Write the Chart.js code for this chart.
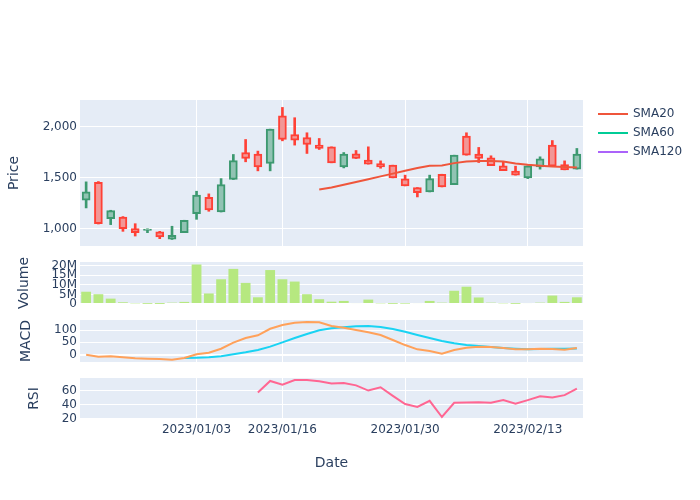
<!DOCTYPE html>
<html>
<head>
<meta charset="utf-8">
<script src="https://cdn.jsdelivr.net/npm/chart.js@4.4.0/dist/chart.umd.min.js"></script>
<style>
  body { margin: 0; background: #fff; }
  #wrap { position: relative; width: 700px; height: 500px; }
  canvas { position: absolute; left: 0; }
</style>
</head>
<body>
<div id="wrap">
  <canvas id="price" width="700" height="180" style="top:80px"></canvas>
  <canvas id="volume" width="700" height="82" style="top:242px"></canvas>
  <canvas id="macd" width="700" height="82" style="top:300px"></canvas>
  <canvas id="rsi" width="700" height="142" style="top:358px"></canvas>
</div>
<script>
const dates = [
    '2022/12/19', '2022/12/20', '2022/12/21', '2022/12/22', '2022/12/23', '2022/12/26', '2022/12/27',
    '2022/12/28', '2022/12/29', '2023/01/03', '2023/01/04', '2023/01/05', '2023/01/06', '2023/01/09',
    '2023/01/10', '2023/01/11', '2023/01/16', '2023/01/17', '2023/01/18', '2023/01/19', '2023/01/20',
    '2023/01/23', '2023/01/24', '2023/01/25', '2023/01/26', '2023/01/27', '2023/01/30', '2023/01/31',
    '2023/02/01', '2023/02/02', '2023/02/03', '2023/02/06', '2023/02/07', '2023/02/08', '2023/02/09',
    '2023/02/10', '2023/02/13', '2023/02/14', '2023/02/15', '2023/02/16', '2023/02/17'
];
const tickDates = ['2023/01/03', '2023/01/16', '2023/01/30', '2023/02/13'];

const open = [1279, 1455, 1098, 1114, 999, 983, 967, 895, 960, 1147, 1308, 1163, 1482, 1747, 1731, 1639, 2108,
    1924, 1895, 1820, 1803, 1606, 1734, 1672, 1639, 1623, 1488, 1403, 1360, 1534, 1432, 1908, 1731, 1695,
    1616, 1564, 1498, 1606, 1820, 1629, 1584];
const high = [1459, 1462, 1180, 1118, 1048, 998, 973, 1023, 1082, 1367, 1341, 1491, 1728, 1875, 1761, 1977, 2190,
    2089, 1941, 1885, 1803, 1747, 1767, 1803, 1665, 1623, 1525, 1403, 1525, 1534, 1721, 1941, 1797, 1715,
    1656, 1613, 1616, 1705, 1865, 1665, 1787];
const low = [1203, 1045, 1039, 973, 927, 960, 901, 893, 960, 1091, 1170, 1163, 1482, 1656, 1567, 1567, 1862,
    1820, 1738, 1777, 1646, 1596, 1688, 1633, 1593, 1498, 1419, 1311, 1360, 1409, 1432, 1721, 1649, 1619,
    1570, 1525, 1491, 1584, 1613, 1577, 1584];
const close = [1360, 1048, 1177, 999, 960, 996, 917, 934, 1082, 1328, 1183, 1432, 1669, 1688, 1606, 1977, 1875,
    1869, 1826, 1787, 1646, 1731, 1688, 1633, 1606, 1498, 1419, 1354, 1491, 1409, 1721, 1721, 1688, 1619,
    1570, 1525, 1616, 1685, 1613, 1577, 1731];

const sma20 = [null, null, null, null, null, null, null, null, null, null, null, null, null, null, null, null,
    null, null, null, 1383, 1403, 1430, 1458, 1485, 1513, 1540, 1568, 1595, 1618, 1620, 1643, 1660, 1664,
    1664, 1659, 1640, 1626, 1617, 1610, 1606, 1600];
const sma60 = [];
const sma120 = [];

const volume = [6400000, 5100000, 2800000, 900000, 350000, 100000, 50000, 700000, 1100000, 20600000, 5500000,
    12900000, 18300000, 11000000, 3500000, 17700000, 12900000, 11700000, 5100000, 2500000, 1200000, 1600000,
    500000, 2300000, 350000, 100000, 200000, 500000, 1600000, 700000, 6900000, 9000000, 3400000, 700000,
    350000, 100000, 500000, 700000, 4400000, 1100000, 3500000];

const macd = [0, -8, -6.5, -10.7, -14.8, -16, -17.5, -20, -13.4, 1.5, 8, 24, 49, 67.6, 78.4, 105, 120, 129.5,
    132, 131, 116.5, 109, 100, 90.7, 79.8, 59.5, 39, 21.7, 15, 4, 19, 28.5, 32.5, 31, 27, 21.7, 21.7, 24,
    23, 20, 27];
const signal = [null, null, null, null, null, null, null, null, -13.4, -12, -10.7, -6.5, 1.5, 9.5, 19, 32.5,
    50, 67.6, 83.8, 98.6, 107.5, 111, 115, 116, 112, 104, 93, 80, 67.6, 55.5, 46, 39, 35, 31, 27, 24, 22,
    23, 24, 24, 25.5];
const rsi = [null, null, null, null, null, null, null, null, null, null, null, null, null, null, 57.6, 74.3,
    69, 75.7, 75.7, 73.8, 70.8, 71.4, 68, 60.5, 65.3, 52.9, 41, 37, 45.7, 22.4, 42.9, 43.3, 43.8, 42.9,
    46.7, 41.4, 46.7, 52.4, 50.5, 53.9, 63.3];

const priceTicks = [1000, 1500, 2000];
const volumeTicks = [0, 5000000, 10000000, 15000000, 20000000];
const macdTicks = [0, 50, 100];
const rsiTicks = [20, 40, 60];

const fontFamily = '"DejaVu Sans", Verdana, sans-serif';
Chart.defaults.font.family = fontFamily;
Chart.defaults.font.size = 12;
Chart.defaults.color = '#2a3f5f';

const upLine = '#3D9970', downLine = '#FF4136';
const upFill = 'rgb(145, 195, 179)', downFill = 'rgb(242, 151, 150)';
const isUp = close.map((c, i) => c >= open[i]);

// plot area background like plotly
const plotBg = {
    id: 'plotBg',
    beforeDraw(chart) {
        const {ctx, chartArea: a} = chart;
        ctx.save();
        ctx.fillStyle = '#E5ECF6';
        ctx.fillRect(a.left, a.top, a.right - a.left, a.bottom - a.top);
        ctx.restore();
    }
};

// legend on the right with line samples
const lineLegend = {
    id: 'lineLegend',
    afterDraw(chart) {
        const ctx = chart.ctx;
        const items = chart.data.datasets.filter(d => d.type === 'line');
        items.forEach((d, i) => {
            const y = chart.chartArea.top + 14 + i * 19;
            ctx.save();
            ctx.strokeStyle = d.borderColor;
            ctx.lineWidth = 2;
            ctx.beginPath();
            ctx.moveTo(598, y);
            ctx.lineTo(628, y);
            ctx.stroke();
            ctx.fillStyle = '#2a3f5f';
            ctx.font = '12px ' + fontFamily;
            ctx.textBaseline = 'middle';
            ctx.fillText(d.label, 633, y);
            ctx.restore();
        });
    }
};

function yAxis(title, titlePad, min, max, tickValues, format) {
    return {
        min: min,
        max: max,
        border: {display: false},
        grid: {
            color: '#fff',
            lineWidth: c => (c.tick && c.tick.value === 0) ? 2 : 1,
            drawTicks: false
        },
        ticks: {padding: 3, autoSkip: false, callback: format},
        afterBuildTicks: s => { s.ticks = tickValues.map(v => ({value: v})); },
        afterFit: s => { s.width = 80; s.paddingTop = 0; s.paddingBottom = 0; },
        title: {display: true, text: title, font: {size: 14}, padding: {top: titlePad, bottom: 0}}
    };
}

function xAxis(showGrid, showLabels) {
    return {
        type: 'category',
        offset: true,
        border: {display: false},
        grid: {display: showGrid, offset: false, color: '#fff', drawTicks: false},
        ticks: {display: showLabels, autoSkip: false, maxRotation: 0, padding: 4},
        afterBuildTicks: s => { s.ticks = s.ticks.filter(t => tickDates.includes(dates[t.value])); },
        afterFit: s => { s.height = showLabels ? 81 : 0; s.paddingLeft = 0; s.paddingRight = 0; },
        title: {display: showLabels, text: 'Date', font: {size: 14}, padding: {top: 0, bottom: 28}}
    };
}

function baseOptions(scales, bottomPad) {
    return {
        responsive: false,
        animation: false,
        events: [],
        layout: {padding: {left: 0, right: 117, top: 20, bottom: bottomPad}},
        plugins: {legend: {display: false}, tooltip: {enabled: false}},
        scales: scales
    };
}

function drawPrice() {
    const ctx = document.getElementById('price').getContext('2d');
    new Chart(ctx, {
        type: 'bar',
        data: {
            labels: dates,
            datasets: [
                {type: 'line', label: 'SMA20', data: sma20, borderColor: '#EF553B', borderWidth: 2, pointRadius: 0, order: 0},
                {type: 'line', label: 'SMA60', data: sma60, borderColor: '#00CC96', borderWidth: 2, pointRadius: 0, order: 0},
                {type: 'line', label: 'SMA120', data: sma120, borderColor: '#AB63FA', borderWidth: 2, pointRadius: 0, order: 0},
                {
                    type: 'bar',
                    label: 'body',
                    data: open.map((o, i) => [o, close[i]]),
                    backgroundColor: isUp.map(u => u ? upFill : downFill),
                    borderColor: isUp.map(u => u ? upLine : downLine),
                    borderWidth: 2,
                    borderSkipped: false,
                    barThickness: 8,
                    grouped: false,
                    order: 1
                },
                {
                    type: 'bar',
                    label: 'wick',
                    data: low.map((l, i) => [l, high[i]]),
                    backgroundColor: isUp.map(u => u ? upLine : downLine),
                    borderWidth: 0,
                    barThickness: 2,
                    grouped: false,
                    order: 2
                }
            ]
        },
        options: baseOptions({
            x: xAxis(true, false),
            y: yAxis('Price', 6, 829, 2263, priceTicks, v => v.toLocaleString('en-US'))
        }, 14),
        plugins: [plotBg, lineLegend]
    });
}

function drawVolume() {
    const ctx = document.getElementById('volume').getContext('2d');
    new Chart(ctx, {
        type: 'bar',
        data: {
            labels: dates,
            datasets: [{
                label: 'Volume',
                data: volume,
                backgroundColor: '#B6E880',
                barPercentage: 0.8,
                categoryPercentage: 1
            }]
        },
        options: baseOptions({
            x: xAxis(false, false),
            y: yAxis('Volume', 15.5, 0, 21900000, volumeTicks, v => v === 0 ? '0' : (v / 1000000) + 'M')
        }, 20),
        plugins: [plotBg]
    });
}

function drawMacd() {
    const ctx = document.getElementById('macd').getContext('2d');
    new Chart(ctx, {
        type: 'line',
        data: {
            labels: dates,
            datasets: [
                {label: 'MACD', data: macd, borderColor: '#FFA15A', borderWidth: 2, pointRadius: 0},
                {label: 'Signal', data: signal, borderColor: '#19D3F3', borderWidth: 2, pointRadius: 0}
            ]
        },
        options: baseOptions({
            x: xAxis(true, false),
            y: yAxis('MACD', 17.5, -29.6, 140.5, macdTicks)
        }, 20),
        plugins: [plotBg]
    });
}

function drawRsi() {
    const ctx = document.getElementById('rsi').getContext('2d');
    new Chart(ctx, {
        type: 'line',
        data: {
            labels: dates,
            datasets: [
                {label: 'RSI', data: rsi, borderColor: '#FF6692', borderWidth: 2, pointRadius: 0}
            ]
        },
        options: baseOptions({
            x: xAxis(true, true),
            y: yAxis('RSI', 26, 19.5, 78.6, rsiTicks)
        }, 0),
        plugins: [plotBg]
    });
}

drawPrice();
drawVolume();
drawMacd();
drawRsi();
</script>
</body>
</html>
